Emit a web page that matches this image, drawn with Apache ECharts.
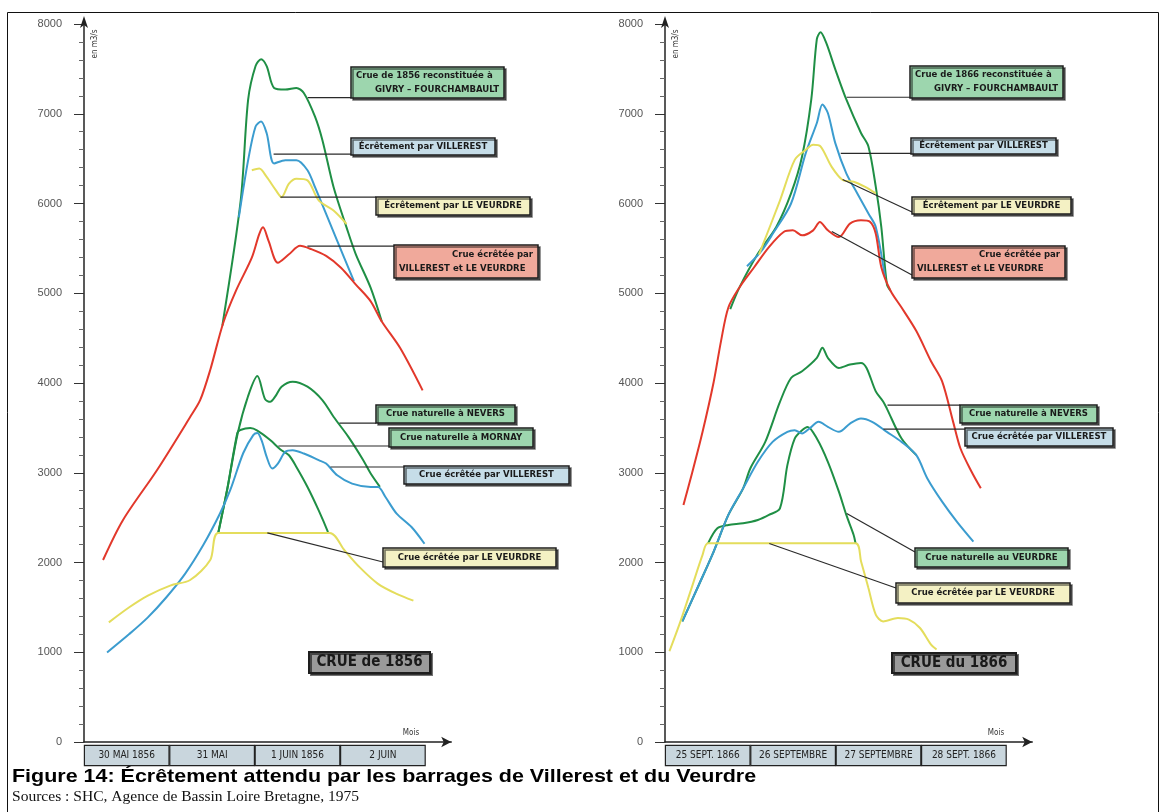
<!DOCTYPE html>
<html><head><meta charset="utf-8">
<script src="https://cdn.jsdelivr.net/npm/echarts@6/dist/echarts.min.js"></script>
<style>html,body{margin:0;padding:0;background:#fff}#c{width:1163px;height:812px}</style>
</head><body><div id="c"></div>
<script>
// ---------- DATA ----------
const days1856 = ['30 MAI 1856', '31 MAI', '1 JUIN 1856', '2 JUIN'];
const days1866 = ['25 SEPT. 1866', '26 SEPTEMBRE', '27 SEPTEMBRE', '28 SEPT. 1866'];
const yMin = 0, yMax = 8000, yStep = 1000;

// 1856 flood — [day offset, discharge m3/s]
const givry1856 = [[1.62,4640],[1.835,6034],[1.922,7157],[2.009,7532],[2.074,7607],[2.139,7530],[2.226,7288],[2.357,7270],[2.487,7288],[2.574,7232],[2.704,6970],[2.791,6708],[2.922,6184],[3.074,5734],[3.183,5434],[3.357,5060],[3.487,4685]];
const ecrVillerest1856 = [[1.813,5846],[1.922,6483],[2.009,6858],[2.074,6914],[2.139,6783],[2.226,6446],[2.357,6483],[2.487,6483],[2.617,6371],[2.704,6184],[2.835,5884],[2.965,5584],[3.161,5135]];
const ecrVeurdre1856 = [[1.965,6371],[2.052,6390],[2.139,6296],[2.248,6146],[2.313,6071],[2.400,6221],[2.487,6277],[2.617,6258],[2.748,6034],[2.922,5921],[3.074,5772]];
const ecrBoth1856 = [[0.223,2028],[0.457,2474],[0.856,3031],[1.243,3621],[1.361,3811],[1.478,4145],[1.630,4669],[1.780,5030],[1.965,5397],[2.052,5659],[2.096,5734],[2.161,5584],[2.270,5341],[2.400,5434],[2.530,5528],[2.661,5491],[2.835,5416],[3.009,5285],[3.183,5097],[3.357,4910],[3.487,4685],[3.704,4386],[3.965,3918]];
const nevers1856 = [[1.572,2329],[1.680,2830],[1.800,3440],[1.920,3850],[2.030,4078],[2.120,3820],[2.180,3790],[2.240,3850],[2.313,3959],[2.443,4015],[2.617,3959],[2.791,3810],[2.922,3624],[3.096,3400],[3.270,3140],[3.357,2991],[3.465,2842]];
const mornay1856 = [[1.572,2329],[1.680,2830],[1.795,3443],[1.830,3476],[1.947,3498],[2.030,3470],[2.180,3365],[2.300,3260],[2.400,3195],[2.487,3065],[2.617,2842],[2.748,2581],[2.857,2339]];
const villerest1856 = [[0.270,998],[0.530,1203],[0.748,1389],[0.965,1613],[1.183,1873],[1.400,2200],[1.595,2551],[1.713,2808],[1.865,3220],[1.982,3420],[2.030,3443],[2.080,3360],[2.139,3177],[2.204,3047],[2.270,3102],[2.357,3233],[2.443,3251],[2.574,3214],[2.748,3140],[2.835,3102],[2.965,2972],[3.139,2879],[3.357,2842],[3.443,2842],[3.530,2730],[3.661,2544],[3.835,2395],[3.987,2209]];
const veurdre1856 = [[0.291,1333],[0.530,1501],[0.748,1631],[1.009,1743],[1.243,1805],[1.478,2028],[1.572,2329],[2.200,2330],[2.878,2330],[3.052,2134],[3.226,1948],[3.443,1762],[3.661,1650],[3.857,1575]];

// 1866 flood
const givry1866 = [[0.764,4822],[0.872,5065],[1.087,5439],[1.303,5738],[1.476,6112],[1.605,6523],[1.713,7159],[1.778,7832],[1.821,7907],[1.886,7794],[1.994,7495],[2.123,7159],[2.295,6785],[2.382,6636],[2.468,6187],[2.533,5738],[2.598,5103],[2.641,5028]];
const ecrVillerest1866 = [[0.960,5300],[1.120,5460],[1.260,5660],[1.476,6000],[1.648,6561],[1.778,6897],[1.843,7103],[1.907,7009],[1.994,6673],[2.123,6336],[2.252,6112],[2.382,5888],[2.468,5738],[2.576,5178]];
const ecrVeurdre1866 = [[1.100,5430],[1.346,6033],[1.519,6486],[1.648,6598],[1.735,6654],[1.821,6636],[1.950,6411],[2.080,6262],[2.209,6243],[2.338,6187],[2.468,6112]];
const ecrBoth1866 = [[0.216,2641],[0.311,2974],[0.440,3456],[0.570,4011],[0.656,4467],[0.742,4841],[0.872,5065],[1.044,5290],[1.217,5514],[1.389,5682],[1.497,5701],[1.605,5645],[1.735,5701],[1.813,5794],[1.907,5701],[2.036,5626],[2.166,5776],[2.295,5813],[2.403,5794],[2.468,5664],[2.533,5290],[2.641,5028],[2.770,4841],[2.943,4579],[3.115,4243],[3.245,4019],[3.374,3567],[3.460,3270],[3.590,3011],[3.698,2826]];
const nevers1866 = [[0.203,1344],[0.397,1752],[0.570,2122],[0.742,2530],[0.915,2826],[1.000,3050],[1.174,3344],[1.346,3789],[1.476,4056],[1.605,4131],[1.778,4280],[1.843,4393],[1.907,4280],[2.036,4168],[2.166,4206],[2.295,4224],[2.360,4168],[2.468,3907],[2.554,3794],[2.598,3715],[2.770,3381],[2.943,3196]];
const natVeurdre1866 = [[0.505,2215],[0.613,2381],[0.742,2419],[0.915,2437],[1.087,2474],[1.217,2530],[1.346,2604],[1.433,3085],[1.519,3381],[1.605,3474],[1.670,3511],[1.778,3381],[1.907,3122],[2.036,2789],[2.123,2530],[2.209,2307],[2.231,2215]];
const villerest1866 = [[0.203,1344],[0.397,1752],[0.570,2122],[0.742,2530],[0.915,2826],[1.087,3122],[1.260,3344],[1.433,3456],[1.519,3474],[1.605,3437],[1.691,3493],[1.799,3567],[1.907,3511],[2.036,3456],[2.166,3548],[2.295,3604],[2.425,3567],[2.598,3456],[2.770,3344],[2.943,3196],[3.072,2937],[3.245,2678],[3.417,2456],[3.611,2233]];
const veurdre1866 = [[0.052,1011],[0.181,1344],[0.311,1715],[0.440,2085],[0.505,2215],[1.300,2215],[2.231,2215],[2.296,2011],[2.382,1715],[2.468,1419],[2.554,1344],[2.727,1381],[2.856,1363],[2.986,1270],[3.115,1085],[3.180,1030]];

// annotation texts and the data point each leader line points to
const notes1856 = [
  {lines:['Crue de 1856 reconstituée à','GIVRY – FOURCHAMBAULT'], align:['left','right'], kind:'green', anchor:[2.62,7180]},
  {lines:['Écrêtement par VILLEREST'], kind:'blue', anchor:[2.22,6550]},
  {lines:['Écrêtement par LE VEURDRE'], kind:'yellow', anchor:[2.30,6072]},
  {lines:['Crue écrêtée par','VILLEREST et LE VEURDRE'], align:['right','left'], kind:'red', anchor:[2.616,5526]},
  {lines:['Crue naturelle à NEVERS'], kind:'green', anchor:[2.99,3554]},
  {lines:['Crue naturelle à MORNAY'], kind:'green', anchor:[2.276,3298]},
  {lines:['Crue écrêtée par VILLEREST'], kind:'blue', anchor:[2.886,3064]},
  {lines:['Crue écrêtée par LE VEURDRE'], kind:'yellow', anchor:[2.147,2330]},
  {lines:['CRUE de 1856'], kind:'dark'}
];
const notes1866 = [
  {lines:['Crue de 1866 reconstituée à','GIVRY – FOURCHAMBAULT'], align:['left','right'], kind:'green', anchor:[2.128,7184]},
  {lines:['Écrêtement par VILLEREST'], kind:'blue', anchor:[2.058,6559]},
  {lines:['Écrêtement par LE VEURDRE'], kind:'yellow', anchor:[2.08,6268]},
  {lines:['Crue écrêtée par','VILLEREST et LE VEURDRE'], align:['right','left'], kind:'red', anchor:[1.953,5687]},
  {lines:['Crue naturelle à NEVERS'], kind:'green', anchor:[2.605,3754]},
  {lines:['Crue écrêtée par VILLEREST'], kind:'blue', anchor:[2.558,3486]},
  {lines:['Crue naturelle au VEURDRE'], kind:'green', anchor:[2.128,2547]},
  {lines:['Crue écrêtée par LE VEURDRE'], kind:'yellow', anchor:[1.221,2212]},
  {lines:['CRUE du 1866'], kind:'dark'}
];
const captionTitle = 'Figure 14: Écrêtement attendu par les barrages de Villerest et du Veurdre';
const captionSource = 'Sources : SHC, Agence de Bassin Loire Bretagne, 1975';
const yUnit = 'en m3/s';
const xUnit = 'Mois';

// ---------- LAYOUT / STYLE ----------
const layout1856 = [
  {box:[351,67,153,31], end:[351,null]},
  {box:[351,138,144,17], end:[351,null]},
  {box:[376,197,154,18], end:[376,null]},
  {box:[394,245,144,33], end:[394,null]},
  {box:[376,405,139,18], end:[376,null]},
  {box:[389,428,144,19], end:[389,null]},
  {box:[404,466,165,18], end:[404,null]},
  {box:[383,548,173,19], end:[383,562]},
  {box:[309,652,121,21]}
];
const layout1866 = [
  {box:[910,66,153,32], end:[910,null]},
  {box:[911,138,145,16], end:[911,null]},
  {box:[912,197,159,17], end:[912,212]},
  {box:[912,246,153,32], end:[912,275]},
  {box:[960,405,137,18], end:[960,null]},
  {box:[965,428,148,18], end:[965,null]},
  {box:[915,548,153,19], end:[915,552]},
  {box:[896,583,174,20], end:[896,588]},
  {box:[892,653,124,20]}
];
const boxFill = {green:'#9dd6ae', blue:'#c6dde8', yellow:'#f4f1c4', red:'#f0a99b', dark:'#9a9a9a'};
const C = {green:'#1f8f45', blue:'#3b9ccf', yellow:'#e4dd5c', red:'#e2382b'};
const narrow = '"Liberation Sans Narrow","DejaVu Sans Condensed","Roboto",sans-serif';

const dayPx = 85.4;
const G = [
  {left:84, top:24, width:dayPx*4.3, height:718},
  {left:665, top:24, width:dayPx*4.3, height:718}
];

function yAxisCfg(gi){
  return {
    type:'value', gridIndex:gi, min:yMin, max:yMax, interval:yStep,
    axisLine:{show:true, lineStyle:{color:'#222', width:1.5}, symbol:['none','arrow'], symbolSize:[6,12], symbolOffset:[0,8]},
    axisTick:{show:true, length:10, lineStyle:{color:'#333', width:1}},
    minorTick:{show:true, splitNumber:5, length:5, lineStyle:{color:'#666'}},
    axisLabel:{color:'#555', fontSize:11, fontFamily:'"Liberation Sans",Arial,sans-serif', margin:22,
      formatter: v => String(v)},
    splitLine:{show:false}
  };
}
function xValCfg(gi){
  return {
    type:'value', gridIndex:gi, min:0, max:4.3,
    axisLine:{show:true, onZero:false, lineStyle:{color:'#222', width:1.5}, symbol:['none','arrow'], symbolSize:[8,10]},
    axisTick:{show:false}, axisLabel:{show:false}, splitLine:{show:false}
  };
}
function xCatCfg(gi, cats){
  return {
    type:'category', gridIndex:gi, data:cats, position:'bottom',
    axisLine:{show:false}, axisTick:{show:false}, splitLine:{show:false},
    axisLabel:{interval:0, margin:3, color:'#222', fontSize:10, fontFamily:narrow,
      backgroundColor:'#c9d6dd', borderColor:'#222', borderWidth:1.2,
      width:dayPx-2, height:19, lineHeight:19, align:'center', padding:0}
  };
}
function lineSeries(name, data, color, gi){
  return {name, type:'line', xAxisIndex:gi, yAxisIndex:gi, data, smooth:0.3,
    showSymbol:false, symbol:'none', lineStyle:{color, width:2}, animation:false, z:3};
}

const chart = echarts.init(document.getElementById('c'));
const option = {
  animation:false,
  backgroundColor:'#ffffff',
  grid:[
    Object.assign({outerBoundsMode:'none', containLabel:false}, G[0]),
    Object.assign({outerBoundsMode:'none', containLabel:false}, G[1]),
    {left:84, top:742, width:dayPx*4, height:1, outerBoundsMode:'none', containLabel:false},
    {left:665, top:742, width:dayPx*4, height:1, outerBoundsMode:'none', containLabel:false}
  ],
  xAxis:[xValCfg(0), xValCfg(1), xCatCfg(2, days1856), xCatCfg(3, days1866)],
  yAxis:[yAxisCfg(0), yAxisCfg(1),
    {type:'value', gridIndex:2, show:false}, {type:'value', gridIndex:3, show:false}],
  series:[
    lineSeries('Crue de 1856 reconstituée à Givry-Fourchambault', givry1856, C.green, 0),
    lineSeries('Écrêtement par Villerest', ecrVillerest1856, C.blue, 0),
    lineSeries('Écrêtement par Le Veurdre', ecrVeurdre1856, C.yellow, 0),
    lineSeries('Crue écrêtée par Villerest et Le Veurdre', ecrBoth1856, C.red, 0),
    lineSeries('Crue naturelle à Nevers', nevers1856, C.green, 0),
    lineSeries('Crue naturelle à Mornay', mornay1856, C.green, 0),
    lineSeries('Crue écrêtée par Villerest', villerest1856, C.blue, 0),
    lineSeries('Crue écrêtée par Le Veurdre', veurdre1856, C.yellow, 0),
    lineSeries('Crue de 1866 reconstituée à Givry-Fourchambault', givry1866, C.green, 1),
    lineSeries('Écrêtement par Villerest ', ecrVillerest1866, C.blue, 1),
    lineSeries('Écrêtement par Le Veurdre ', ecrVeurdre1866, C.yellow, 1),
    lineSeries('Crue écrêtée par Villerest et Le Veurdre ', ecrBoth1866, C.red, 1),
    lineSeries('Crue naturelle à Nevers ', nevers1866, C.green, 1),
    lineSeries('Crue naturelle au Veurdre', natVeurdre1866, C.green, 1),
    lineSeries('Crue écrêtée par Villerest ', villerest1866, C.blue, 1),
    lineSeries('Crue écrêtée par Le Veurdre ', veurdre1866, C.yellow, 1)
  ]
};
chart.setOption(option);

function noteGraphics(notes, layout, gi){
  const els = [];
  notes.forEach((n, i) => {
    const L = layout[i];
    const [bx, by, bw, bh] = L.box;
    if (n.anchor && L.end){
      const p = chart.convertToPixel({xAxisIndex:gi, yAxisIndex:gi}, n.anchor);
      const ey = L.end[1] == null ? p[1] : L.end[1];
      els.push({type:'line', z:50, silent:true,
        shape:{x1:p[0], y1:p[1], x2:L.end[0], y2:ey},
        style:{stroke:'#2a2a2a', lineWidth:1.2}});
    }
    const dark = n.kind === 'dark';
    els.push({type:'rect', z:60, silent:true,
      shape:{x:bx, y:by, width:bw, height:bh},
      style:{fill:boxFill[n.kind], stroke:'#1e1e1e', lineWidth:dark?2:1.5,
        shadowColor:'rgba(0,0,0,0.55)', shadowOffsetX:2, shadowOffsetY:2, shadowBlur:0}});
    const k = n.lines.length;
    n.lines.forEach((t, j) => {
      const al = (n.align && n.align[j]) || 'center';
      const tx = al === 'left' ? bx + 5 : al === 'right' ? bx + bw - 5 : bx + bw / 2;
      const ty = by + bh * (j + 0.5) / k + (k > 1 ? (j === 0 ? 1 : -1) : 0);
      els.push({type:'text', z:61, silent:true,
        style:{text: t, x: tx, y: ty, align: al, verticalAlign:'middle',
          font: dark ? 'bold 15px ' + narrow : 'bold 9.5px ' + narrow,
          fill: '#1a1a1a'}});
    });
  });
  return els;
}

const graphics = [
  {type:'rect', z:0, silent:true, shape:{x:7.5, y:12.5, width:1151, height:806},
    style:{fill:'none', stroke:'#111', lineWidth:1}},
  {type:'text', silent:true, x:12, y:777, scaleX:1.13,
    style:{text:captionTitle, x:0, y:0, verticalAlign:'middle',
    font:'bold 19px "Liberation Sans",Arial,sans-serif', fill:'#000'}},
  {type:'text', silent:true, x:12, y:797, scaleX:1.11,
    style:{text:captionSource, x:0, y:0, verticalAlign:'middle',
    font:'14px "Liberation Serif","Times New Roman",serif', fill:'#111'}},
  {type:'text', silent:true, rotation:Math.PI/2, x:95, y:44,
    style:{text:yUnit, align:'center', verticalAlign:'middle', font:'8px ' + narrow, fill:'#333'}},
  {type:'text', silent:true, rotation:Math.PI/2, x:676, y:44,
    style:{text:yUnit, align:'center', verticalAlign:'middle', font:'8px ' + narrow, fill:'#333'}},
  {type:'text', silent:true, style:{text:xUnit, x:411, y:733, align:'center', verticalAlign:'middle', font:'8px ' + narrow, fill:'#333'}},
  {type:'text', silent:true, style:{text:xUnit, x:996, y:733, align:'center', verticalAlign:'middle', font:'8px ' + narrow, fill:'#333'}}
].concat(noteGraphics(notes1856, layout1856, 0), noteGraphics(notes1866, layout1866, 1));

chart.setOption({graphic: graphics});
</script>
</body></html>
